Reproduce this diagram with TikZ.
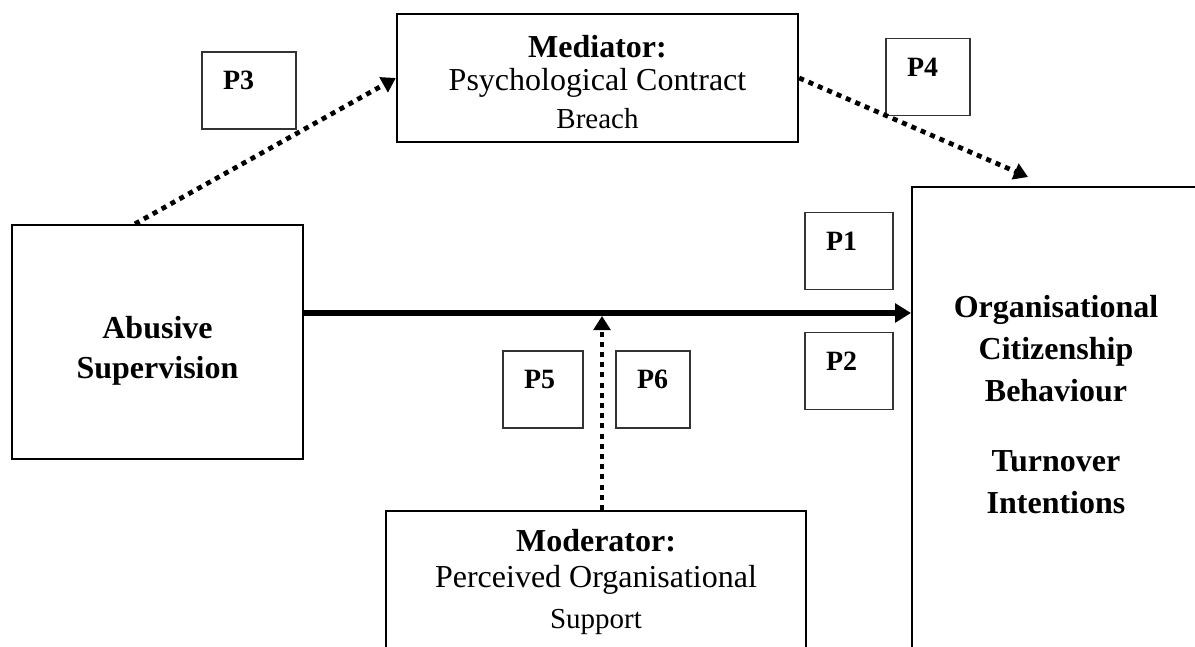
\documentclass[tikz,border=0pt]{standalone}
\usepackage{fontspec}
\setmainfont{Liberation Serif}
\usepackage{tikz}
\tikzset{>=latex}
\usetikzlibrary{calc,arrows.meta,positioning}
\tikzset{
  bigbox/.style={draw, line width=1.3pt, align=center},
  pbox/.style={draw=black!80, line width=0.6pt, inner xsep=0.42cm, inner ysep=0pt,
    text width=#1, text height=0.76cm, text depth=0.78cm, align=left,
    font=\fontsize{15.9}{18}\selectfont\bfseries},
  mainarrow/.style={line width=3pt, -{Triangle[length=9pt,width=10.5pt]}},
  dotarrow/.style={line width=2.7pt, dash pattern=on 2.9pt off 2.9pt, -{Triangle[length=8pt,width=9.5pt]}}
}

\begin{document}
\begin{tikzpicture}
        \useasboundingbox (0,0) rectangle (23.9,12.94);
        \clip (0,0) rectangle (23.9,12.94);

        \node[bigbox, minimum width=5.82cm, minimum height=4.68cm] (abuse) at (3.15,6.1) {};
        \node[align=center, font=\fontsize{18.2}{22.8}\selectfont\bfseries] (abusetext) at (3.15,5.92) {Abusive\\Supervision};

        \node[bigbox, minimum width=8.02cm, minimum height=2.56cm] (mediator) at (11.95,11.38) {};
        \node[align=center, font=\fontsize{18.2}{19}\selectfont] (mediatortext) at (11.95,11.30)
            {\textbf{Mediator:}\\Psychological Contract\\[2.6pt]{\fontsize{16.5}{19}\selectfont Breach}};

        \node[bigbox, minimum width=5.76cm, minimum height=10cm, anchor=north west] (outcome) at (18.22,9.22) {};
        \node[align=center, font=\fontsize{18.2}{23.9}\selectfont\bfseries] (outcometext) at (21.12,4.84)
            {Organisational\\Citizenship\\Behaviour\\[15.9pt]Turnover\\Intentions};

        \node[bigbox, minimum width=8.4cm, minimum height=4cm, anchor=north] (moderator) at (11.92,2.74) {};
        \node[align=center, font=\fontsize{18.2}{21}\selectfont] (moderatortext) at (11.92,1.30)
            {\textbf{Moderator:}\\Perceived Organisational\\[2.3pt]{\fontsize{16.5}{21}\selectfont Support}};

        % proposition boxes
        \foreach \i/\x/\y/\w in {1/16.98/7.92/0.92cm, 2/16.98/5.52/0.92cm, 3/4.98/11.13/1.04cm,
                                 4/18.56/11.4/0.84cm, 5/10.86/5.15/0.76cm, 6/13.06/5.15/0.64cm}
        {
        \node[pbox=\w] (p\i) at (\x,\y) {P\i};
        }

        \coordinate (pathstart) at ([yshift=0.58cm]abuse.east);
        \draw[mainarrow] (pathstart) -- (pathstart -| outcome.west);

        \draw[dotarrow] ([xshift=-0.45cm]abuse.north) -- (mediator.west);
        \coordinate (medend) at ([shift={(2.34,0.18)}]outcome.north west);
        \draw[dotarrow] (mediator.east) -- (medend);

        \coordinate (modstart) at ([xshift=0.12cm]moderator.north);
        \coordinate (modend) at ($(modstart |- pathstart)+(0,-0.06)$);
        \draw[dotarrow] (modstart) -- (modend);
\end{tikzpicture}
\end{document}
